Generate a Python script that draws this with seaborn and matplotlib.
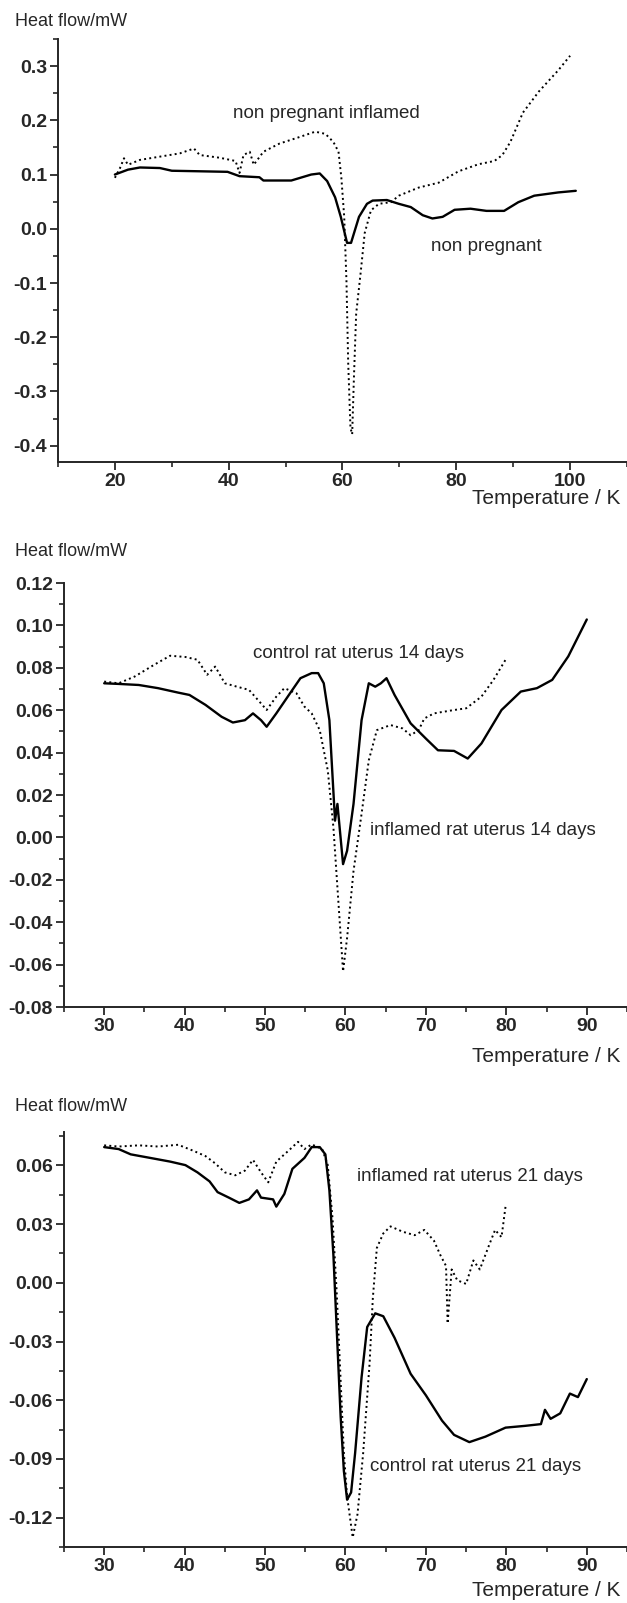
import matplotlib
matplotlib.use("Agg")
import matplotlib.pyplot as plt
import seaborn as sns
from matplotlib.ticker import MultipleLocator, FormatStrFormatter

# --- panel 1: non pregnant ---
np_temp = [20, 22.3, 24.4, 27.9, 30, 34.9, 39.8, 41.9, 45.4, 46.1, 51, 54.5, 56, 57.3, 58.7,
           59.7, 60.8, 61.5, 62.9, 64.3, 65.3, 67.8, 69.9, 72, 74.1, 75.8, 77.6, 79.7, 82.5,
           85.3, 88.4, 90.9, 93.7, 97.9, 101]
np_flow = [0.100, 0.109, 0.113, 0.112, 0.107, 0.106, 0.105, 0.097, 0.095, 0.089, 0.089, 0.100,
           0.102, 0.088, 0.058, 0.022, -0.026, -0.026, 0.022, 0.046, 0.052, 0.053, 0.046, 0.040,
           0.025, 0.019, 0.022, 0.035, 0.037, 0.033, 0.033, 0.049, 0.061, 0.067, 0.070]

npi_temp = [20, 20.9, 21.6, 22.3, 24.4, 27.9, 31.4, 33.9, 34.9, 38.4, 41.2, 41.9, 42.6, 43.7,
            44.4, 46.1, 48.9, 52.4, 55.2, 57, 58.4, 59.3, 59.8, 60.3, 60.7, 61, 61.4, 61.7, 62,
            62.4, 63.2, 63.9, 65, 66.4, 68.5, 69.9, 73.4, 76.9, 80.4, 83.9, 86.7, 88.1, 89.5,
            91.7, 94.5, 97.9, 100]
npi_flow = [0.094, 0.112, 0.130, 0.118, 0.127, 0.133, 0.139, 0.148, 0.136, 0.131, 0.125, 0.103,
            0.136, 0.142, 0.118, 0.142, 0.157, 0.169, 0.179, 0.175, 0.160, 0.142, 0.094, 0.022,
            -0.098, -0.247, -0.367, -0.379, -0.277, -0.157, -0.080, -0.008, 0.034, 0.046, 0.049,
            0.061, 0.076, 0.085, 0.106, 0.119, 0.125, 0.136, 0.160, 0.214, 0.253, 0.292, 0.319]

# --- panel 2: 14 days ---
c14_temp = [30, 31.8, 34.3, 36.7, 39.2, 40.6, 42.6, 44.6, 46, 47.5, 48.5, 49.5, 50.2, 51.4,
            53.4, 54.4, 55.8, 56.6, 57.3, 58, 58.7, 59, 59.7, 60.2, 61, 62, 62.9, 63.7, 64.4,
            65.1, 66.1, 68.1, 70, 71.5, 73.5, 75.2, 76.9, 79.4, 81.8, 83.8, 85.7, 87.7, 90]
c14_flow = [0.0727, 0.0724, 0.0719, 0.0704, 0.0683, 0.0672, 0.0625, 0.0569, 0.0542, 0.0553,
            0.0585, 0.0553, 0.0522, 0.0585, 0.0696, 0.0751, 0.0775, 0.0775, 0.0727, 0.0553,
            0.0079, 0.0158, -0.0126, -0.0063, 0.0158, 0.0553, 0.0727, 0.0711, 0.0727, 0.0751,
            0.0672, 0.0538, 0.0466, 0.0411, 0.0408, 0.0372, 0.0443, 0.0601, 0.0688, 0.0704,
            0.0743, 0.0854, 0.1028]

i14_temp = [30, 31.8, 33.8, 36.2, 38.2, 40.1, 41.6, 42.8, 43.8, 45, 46.5, 48, 49.5, 50.2, 51.4,
            52.4, 53.9, 54.9, 55.8, 56.8, 57.8, 58.5, 59, 59.7, 60.2, 61, 62, 62.9, 63.9, 65.6,
            67.1, 68.1, 69.1, 69.8, 71, 73.5, 75, 76.9, 78.4, 79.9]
i14_flow = [0.0735, 0.0727, 0.0759, 0.0814, 0.0857, 0.0851, 0.0838, 0.0767, 0.0806, 0.0727,
            0.0711, 0.0696, 0.0632, 0.0601, 0.0664, 0.0704, 0.0680, 0.0617, 0.0585, 0.0506,
            0.0316, 0.0047, -0.0237, -0.0632, -0.0474, -0.0158, 0.0111, 0.0364, 0.0506, 0.0530,
            0.0514, 0.0482, 0.0506, 0.0561, 0.0585, 0.0601, 0.0609, 0.0664, 0.0743, 0.0838]

# --- panel 3: 21 days ---
c21_temp = [30, 31.8, 33.3, 35.7, 38.2, 40.1, 41.6, 43.1, 44.1, 45.5, 46.8, 48, 49, 49.5, 51,
            51.4, 52.4, 53.4, 54.9, 55.8, 56.8, 57.5, 58, 58.5, 59, 59.4, 59.8, 60.2, 60.7, 61.2,
            62, 62.7, 63.7, 64.7, 66.1, 68.1, 70, 72, 73.5, 75.4, 77.4, 79.9, 82.3, 84.3, 84.8,
            85.5, 86.7, 87.9, 88.9, 90]
c21_flow = [0.0693, 0.0683, 0.0656, 0.0638, 0.0619, 0.0601, 0.0564, 0.0518, 0.0463, 0.0435,
            0.0408, 0.0426, 0.0472, 0.0435, 0.0426, 0.0389, 0.0454, 0.0582, 0.0638, 0.0693,
            0.0693, 0.0656, 0.0472, 0.0141, -0.0318, -0.0685, -0.0961, -0.1108, -0.1071, -0.0869,
            -0.0483, -0.0226, -0.0156, -0.0171, -0.0281, -0.0465, -0.0575, -0.0704, -0.0777,
            -0.0814, -0.0786, -0.0740, -0.0731, -0.0722, -0.0649, -0.0695, -0.0667, -0.0566,
            -0.0584, -0.0492]

i21_temp = [30, 31.8, 34.3, 36.7, 39.2, 41.1, 42.6, 43.8, 45, 46.3, 47.5, 48.5, 49.5, 50.4, 51.4,
            52.9, 54.1, 54.9, 55.8, 57.1, 57.8, 58.4, 58.9, 59.4, 59.8, 60.2, 60.9, 61.5, 62.2,
            63, 63.4, 63.9, 64.7, 65.6, 67.1, 68.6, 69.8, 71, 71.8, 72.5, 72.7, 73.2, 73.9, 75,
            75.9, 76.7, 77.9, 78.6, 79.4, 79.9]
i21_flow = [0.0702, 0.0696, 0.0702, 0.0696, 0.0705, 0.0674, 0.0647, 0.0610, 0.0564, 0.0549,
            0.0573, 0.0628, 0.0564, 0.0513, 0.0619, 0.0674, 0.0720, 0.0683, 0.0707, 0.0683,
            0.0601, 0.0325, -0.0042, -0.0502, -0.0869, -0.1090, -0.1301, -0.1181, -0.0869,
            -0.0410, -0.0079, 0.0178, 0.0252, 0.0288, 0.0261, 0.0243, 0.0270, 0.0215, 0.0141,
            0.0086, -0.0208, 0.0068, 0.0013, -0.0006, 0.0114, 0.0068, 0.0197, 0.0270, 0.0233,
            0.0390]

sns.set_style("ticks")
plt.rcParams['font.family'] = ['Liberation Sans', 'DejaVu Sans']
plt.rcParams['axes.unicode_minus'] = False

fig = plt.figure(figsize=(6.27, 16.03), dpi=100)

panels = [
    dict(rect=[0.0925, 0.7118, 0.9075, 0.2639], xlim=(10, 110), ylim=(-0.43, 0.35),
         xmaj=20, xmin=10, ymaj=0.1, ymin=0.05, fmt='%.1f',
         solid=(np_temp, np_flow), dot=(npi_temp, npi_flow),
         labels=[(40.8, 0.213, 'non pregnant inflamed'), (75.5, -0.033, 'non pregnant')],
         xlab_y=0.6888, ylab_y=0.9868),
    dict(rect=[0.102, 0.3718, 0.898, 0.2645], xlim=(25, 95), ylim=(-0.08, 0.12),
         xmaj=10, xmin=5, ymaj=0.02, ymin=0.01, fmt='%.2f',
         solid=(c14_temp, c14_flow), dot=(i14_temp, i14_flow),
         labels=[(48.5, 0.0867, 'control rat uterus 14 days'),
                 (63.0, 0.0033, 'inflamed rat uterus 14 days')],
         xlab_y=0.3412, ylab_y=0.6562),
    dict(rect=[0.102, 0.0349, 0.898, 0.2589], xlim=(25, 95), ylim=(-0.135, 0.077),
         xmaj=10, xmin=5, ymaj=0.03, ymin=0.015, fmt='%.2f',
         solid=(c21_temp, c21_flow), dot=(i21_temp, i21_flow),
         labels=[(61.4, 0.0545, 'inflamed rat uterus 21 days'),
                 (63.0, -0.0938, 'control rat uterus 21 days')],
         xlab_y=0.0081, ylab_y=0.3100),
]

for p in panels:
    ax = fig.add_axes(p['rect'])
    sns.lineplot(x=p['solid'][0], y=p['solid'][1], ax=ax, color='black', lw=1.7, sort=False)
    sns.lineplot(x=p['dot'][0], y=p['dot'][1], ax=ax, color='black', lw=1.4,
                 linestyle=':', sort=False)
    ax.set_xlim(*p['xlim'])
    ax.set_ylim(*p['ylim'])
    ax.xaxis.set_major_locator(MultipleLocator(p['xmaj']))
    ax.xaxis.set_minor_locator(MultipleLocator(p['xmin']))
    ax.yaxis.set_major_locator(MultipleLocator(p['ymaj']))
    ax.yaxis.set_minor_locator(MultipleLocator(p['ymin']))
    ax.yaxis.set_major_formatter(FormatStrFormatter(p['fmt']))
    sns.despine(ax=ax)
    for s in ['left', 'bottom']:
        ax.spines[s].set_linewidth(1.4)
    ax.tick_params(which='major', direction='out', length=5.5, width=1.3, labelsize=14, pad=2.5)
    ax.tick_params(which='minor', direction='out', length=3.5, width=1.2)
    for t in ax.get_xticklabels() + ax.get_yticklabels():
        t.set_fontweight('bold')
    ax.set_xlabel('')
    ax.set_ylabel('')
    for x, y, s in p['labels']:
        ax.text(x, y, s, fontsize=13.5, ha='left', va='center')
    fig.text(0.99, p['xlab_y'], 'Temperature / K', fontsize=15, ha='right', va='center')
    fig.text(0.024, p['ylab_y'], 'Heat flow/mW', fontsize=13, ha='left', va='center')

fig.savefig('out.png', dpi=100)
